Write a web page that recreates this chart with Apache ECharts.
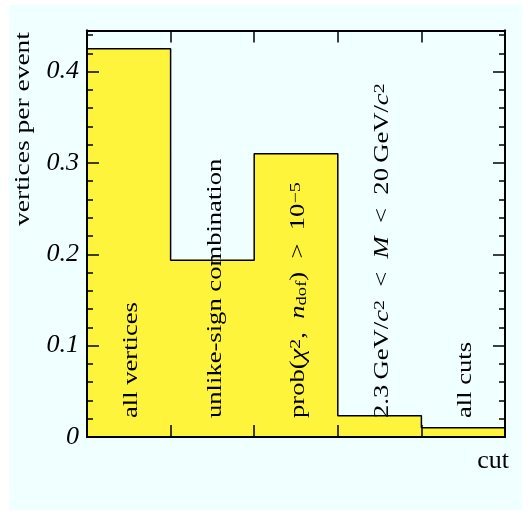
<!DOCTYPE html>
<html><head><meta charset="utf-8">
<script src="https://cdn.jsdelivr.net/npm/echarts@6/dist/echarts.min.js"></script>
<style>html,body{margin:0;padding:0;background:#fff}#c{width:530px;height:511px}</style>
</head><body><div id="c"></div>
<script>
// ---- data ----
const cutLabels = [
  'all vertices',
  'unlike-sign combination',
  'prob({i|χ}{sup|2},\u2002{i|n}{sub|dof})\u2002>\u200210{sup|−5}',
  '2.3\u2009GeV/{i|c}{sup|2}\u2002<\u2002{i|M}\u2002<\u200220\u2009GeV/{i|c}{sup|2}',
  'all cuts'
];
const verticesPerEvent = [0.425, 0.1936, 0.310, 0.0233, 0.0102];
const yTickLabels = ['0', '0.1', '0.2', '0.3', '0.4'];
const yTitle = 'vertices per event';
const xTitle = 'cut';

// ---- chart ----
const FONT = 'Liberation Serif';
const chart = echarts.init(document.getElementById('c'), null, {renderer: 'canvas'});
const binData = verticesPerEvent.map((v, i) => [i, v]);
const stepData = [];
verticesPerEvent.forEach((v, i) => { stepData.push([i, v]); stepData.push([i + 1, v]); });

const Y_MAX = 0.445;
function yAxisDef(pos, interval, len, labels) {
  return {
    type: 'value', position: pos, min: 0, max: Y_MAX, interval: interval, z: 20,
    axisLine: {show: true, onZero: false, lineStyle: {color: '#000', width: 2}},
    axisTick: {show: true, inside: true, length: len, lineStyle: {color: '#000', width: 1.5}},
    splitLine: {show: false},
    axisLabel: labels ? {
      show: true, showMaxLabel: false, margin: 8,
      fontFamily: FONT, fontStyle: 'italic', fontSize: 26, color: '#000',
      formatter: v => yTickLabels[Math.round(v * 10)] ?? ''
    } : {show: false}
  };
}
function xAxisDef(pos, withName) {
  const a = {
    type: 'value', position: pos, min: 0, max: verticesPerEvent.length, interval: 1, z: 20,
    axisLine: {show: true, onZero: false, lineStyle: {color: '#000', width: 2}},
    axisTick: {show: true, inside: true, length: 12, lineStyle: {color: '#000', width: 1.5}},
    splitLine: {show: false},
    axisLabel: {show: false}
  };
  if (withName) {
    a.name = xTitle;
    a.nameLocation = 'end';
    a.nameGap = 4;
    a.nameTextStyle = {fontFamily: FONT, fontSize: 26, color: '#000', align: 'right', verticalAlign: 'top', padding: [11, 0, 0, 0]};
  }
  return a;
}

const richStyles = {
  i: {fontFamily: FONT, fontStyle: 'italic', fontSize: 20, fill: '#000'},
  sup: {fontFamily: FONT, fontSize: 15, verticalAlign: 'top', fill: '#000'},
  sub: {fontFamily: FONT, fontSize: 14, verticalAlign: 'bottom', fill: '#000'}
};

chart.setOption({
  backgroundColor: 'transparent',
  animation: false,
  grid: {left: 87, right: 25, top: 30.5, bottom: 74, containLabel: false},
  graphic: [
    {type: 'rect', z: -10, silent: true, shape: {x: 9, y: 5, width: 513, height: 505}, style: {fill: '#f0ffff'}},
    {type: 'text', z: 10, x: 23, y: 32, rotation: Math.PI / 2, scaleX: 1.25,
     style: {text: yTitle, fontFamily: FONT, fontSize: 22, fill: '#000', align: 'right', verticalAlign: 'middle'}}
  ],
  xAxis: [xAxisDef('bottom', true), xAxisDef('top', false)],
  yAxis: [
    yAxisDef('left', 0.1, 12, true),
    yAxisDef('left', 0.02, 6, false),
    yAxisDef('right', 0.1, 12, false),
    yAxisDef('right', 0.02, 6, false)
  ],
  series: [
    {
      type: 'custom', xAxisIndex: 0, yAxisIndex: 0, z: 1, silent: true,
      data: binData,
      renderItem: (params, api) => {
        const i = api.value(0), v = api.value(1);
        const p0 = api.coord([i, 0]);
        const p1 = api.coord([i + 1, v]);
        return {type: 'rect', shape: {x: p0[0], y: p1[1], width: p1[0] - p0[0], height: p0[1] - p1[1]},
                style: {fill: '#fff43c', stroke: '#fff43c', lineWidth: 1}};
      }
    },
    {
      type: 'line', xAxisIndex: 0, yAxisIndex: 0, z: 2, silent: true,
      data: stepData, showSymbol: false, symbol: 'none',
      lineStyle: {color: '#000', width: 1.5}
    },
    {
      type: 'custom', xAxisIndex: 0, yAxisIndex: 0, z: 3, silent: true,
      data: binData,
      renderItem: (params, api) => {
        const i = api.value(0);
        const c = api.coord([i + 0.5, 0]);
        return {type: 'text', x: c[0] + 3, y: c[1] - 19, rotation: Math.PI / 2, scaleX: 1.33, scaleY: 1,
          style: {text: cutLabels[params.dataIndex], fontFamily: FONT, fontSize: 20, fill: '#000',
                  align: 'left', verticalAlign: 'middle', rich: richStyles}};
      }
    }
  ]
});
</script></body></html>
